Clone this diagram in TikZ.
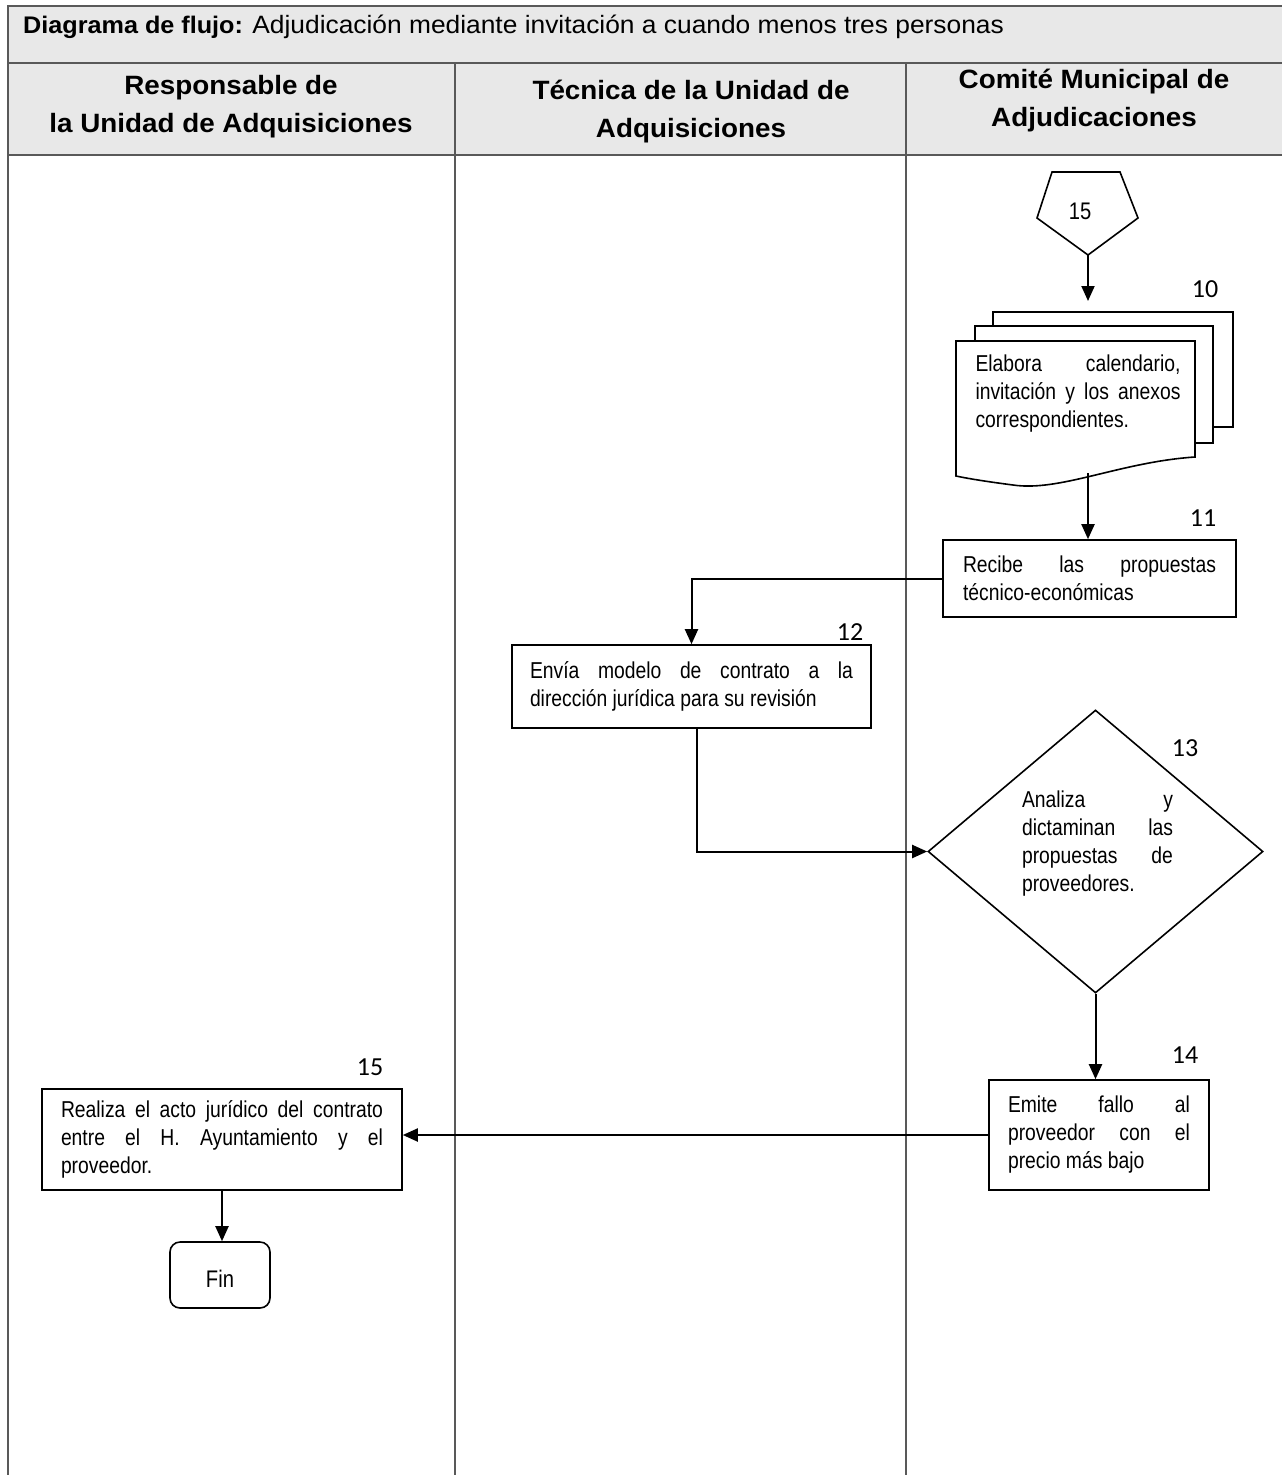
\documentclass[tikz,border=0pt]{standalone}
\usepackage{fontspec}
\setmainfont{Liberation Sans}[FakeStretch=0.84]
\newfontfamily\titlefont{Liberation Sans}[FakeStretch=1.05]
\newfontfamily\numfont{Carlito}
\usetikzlibrary{arrows.meta,shapes.geometric}
\hyphenpenalty=10000
\exhyphenpenalty=10000
\tolerance=10000
\tikzset{
  frame/.style={line width=1.6pt, draw=black!65},
  box/.style={draw, line width=1.6pt, rectangle, align=justify, font=\fontsize{23}{28}\selectfont, inner ysep=0pt},
  txt/.style={font=\fontsize{23}{28}\selectfont, inner sep=0pt, align=justify},
  num/.style={font=\numfont\fontsize{26}{30}\selectfont, inner sep=0pt},
  hdr/.style={font=\titlefont\bfseries\fontsize{26.5}{38}\selectfont, align=center, inner sep=0pt},
  flow/.style={line width=2pt, -{Triangle[length=15pt,width=13pt]}},
  shp/.style={line width=1.6pt, fill=white}
}
\begin{document}
\begin{tikzpicture}[x=1pt,y=-1pt]
\useasboundingbox (0,0) rectangle (1282,1475);
% frame
\fill[black!9] (8,6) rectangle (1282,155);
\draw[frame] (8,1475) -- (8,6) -- (1282,6);
\draw[frame] (8,63) -- (1282,63);
\draw[frame] (8,155) -- (1282,155);
\draw[frame] (455,63) -- (455,1475);
\draw[frame] (906,63) -- (906,1475);
\node[anchor=west, inner sep=0pt, font=\titlefont\fontsize{24}{28}\selectfont] (title) at (23,27) {\textbf{Diagrama de flujo:} {\fontsize{25.1}{28}\selectfont Adjudicación mediante invitación a cuando menos tres personas}};
\node[hdr] (h1) at (231,107) {Responsable de\\la Unidad de Adquisiciones};
\node[hdr] (h2) at (691,112) {Técnica de la Unidad de\\Adquisiciones};
\node[hdr] (h3) at (1094,101) {Comité Municipal de\\Adjudicaciones};
% off-page connector
\draw[shp] (1052,172) -- (1120,172) -- (1138,218) -- (1088,255) -- (1037,218) -- cycle;
\node[font=\fontsize{24}{28}\selectfont, inner sep=0pt] (p15) at (1080,211) {15};
\coordinate (pbot) at (1088,255);
\coordinate (doctop) at (1088,301);
% document stack
\draw[shp] (993,312) rectangle (1233,427);
\draw[shp] (975,326) rectangle (1213,443);
\draw[shp] (956,341) -- (1195,341) -- (1195,457) .. controls (1120,462) and (1060,492) .. (1013,485) .. controls (990,482) and (970,479) .. (956,476) -- cycle;
\node[txt, text width=205pt] (d10) at (1078,394) {Elabora calendario,\linebreak invitación y los anexos\linebreak correspondientes.};
\coordinate (docb) at (1088,473);
% boxes
\node[box, text width=253pt, inner xsep=20pt, minimum height=77pt] (b11) at (1089.5,578.5) {Recibe las propuestas\linebreak técnico-económicas};
\node[box, text width=323pt, inner xsep=18pt, minimum height=83pt] (b12) at (691.5,686.5) {Envía modelo de contrato a la\linebreak dirección jurídica para su revisión};
\node[draw, diamond, line width=1.6pt, minimum width=335pt, minimum height=283pt, inner sep=0pt] (d13) at (1095.5,851.5) {};
\node[txt, text width=151pt] (t13) at (1097.5,844) {Analiza y\linebreak dictaminan las\linebreak propuestas de\linebreak proveedores.};
\node[box, text width=182pt, inner xsep=19pt, minimum height=110pt] (b14) at (1099,1135) {Emite fallo al\linebreak proveedor con el\linebreak precio más bajo};
\node[box, text width=322pt, inner xsep=19pt, minimum height=101pt] (b15) at (222,1139.5) {Realiza el acto jurídico del contrato\linebreak entre el H. Ayuntamiento y el\linebreak proveedor.};
\node[draw, line width=1.6pt, rounded corners=10pt, minimum width=100pt, minimum height=66pt, font=\fontsize{24}{28}\selectfont, text depth=0pt, text height=24pt] (fin) at (220,1275) {Fin};
% numbers
\node[num] (n10) at (1205,289) {10};
\node[num] (n11) at (1203,518) {11};
\node[num] (n12) at (850,632) {12};
\node[num] (n13) at (1185,748) {13};
\node[num] (n14) at (1185,1055) {14};
\node[num] (n15) at (370,1067) {15};
% connectors
\draw[flow] (pbot) -- (doctop);
\draw[flow] (docb) -- (docb |- b11.north);
\draw[flow] (b11.west) -| (b12.north);
\draw[flow] ([xshift=5pt]b12.south) |- (d13.west);
\draw[flow] (d13.south) -- (d13.south |- b14.north);
\draw[flow] (b14.west) -- (b14.west -| b15.east);
\draw[flow] (b15.south) -- (b15.south |- fin.north);
\end{tikzpicture}
\end{document}
